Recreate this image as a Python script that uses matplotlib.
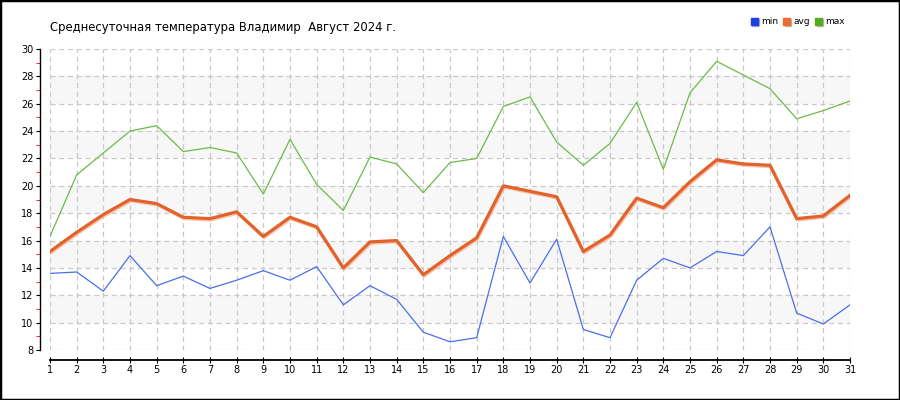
import matplotlib
matplotlib.use("Agg")
import matplotlib.pyplot as plt
import matplotlib.patheffects as pe
from matplotlib.lines import Line2D
from matplotlib.patches import Rectangle

days = list(range(1, 32))
t_min = [13.6, 13.7, 12.3, 14.9, 12.7, 13.4, 12.5, 13.1, 13.8, 13.1, 14.1,
         11.3, 12.7, 11.7, 9.3, 8.6, 8.9, 16.3, 12.9, 16.1, 9.5, 8.9,
         13.1, 14.7, 14.0, 15.2, 14.9, 17.0, 10.7, 9.9, 11.3]
t_avg = [15.2, 16.6, 17.9, 19.0, 18.7, 17.7, 17.6, 18.1, 16.3, 17.7, 17.0,
         14.0, 15.9, 16.0, 13.5, 14.9, 16.2, 20.0, 19.6, 19.2, 15.2, 16.4,
         19.1, 18.4, 20.3, 21.9, 21.6, 21.5, 17.6, 17.8, 19.3]
t_max = [16.3, 20.8, 22.4, 24.0, 24.4, 22.5, 22.8, 22.4, 19.4, 23.4, 20.1,
         18.2, 22.1, 21.6, 19.5, 21.7, 22.0, 25.8, 26.5, 23.2, 21.5, 23.1,
         26.1, 21.2, 26.8, 29.1, 28.1, 27.1, 24.9, 25.5, 26.2]

title = "Среднесуточная температура Владимир  Август 2024 г."
y_min, y_max = 8, 30

fig = plt.figure(figsize=(9, 4), dpi=100)
ax = fig.add_axes([50 / 900, 50 / 400, 800 / 900, 301 / 400])

# alternating background bands
for lo in range(10, 30, 4):
    ax.axhspan(lo, lo + 2, color="#f7f7f7", zorder=0, lw=0)

ax.plot(days, t_min, color="#4a6ee8", lw=0.9, zorder=3)
ax.plot(days, t_max, color="#6cbb48", lw=0.9, zorder=3)
ax.plot(days, t_avg, color="#e3622a", lw=2.3, zorder=4,
        path_effects=[pe.SimpleLineShadow(offset=(0.6, -1.0), shadow_color="#f4b9a0", alpha=0.8, rho=1),
                      pe.Normal()])

ax.set_xlim(1, 31)
ax.set_ylim(y_min, y_max)
ax.set_xticks(days)
ax.set_yticks(range(y_min, y_max + 1, 2))
ax.set_yticks(range(y_min + 1, y_max, 2), minor=True)
ax.grid(True, which="major", color="#c8c8c8", ls=(0, (4, 3)), lw=0.9)
ax.set_axisbelow(True)

for s in ["top", "right"]:
    ax.spines[s].set_visible(False)
ax.spines["left"].set_position(("outward", 7))
ax.spines["bottom"].set_position(("outward", 7))
ax.spines["left"].set_linewidth(1)
ax.spines["bottom"].set_linewidth(1.3)
ax.tick_params(axis="y", which="major", direction="out", length=3, labelsize=7, pad=2)
ax.tick_params(axis="y", which="minor", direction="out", length=3, color="red")
ax.tick_params(axis="x", direction="inout", length=5, labelsize=7, pad=1)

fig.text(50 / 900, 1 - 28 / 400, title, fontsize=8.4, va="center", ha="left")

handles = [Line2D([], [], ls="", marker="s", markersize=5, color=c,
                  path_effects=[pe.SimpleLineShadow(offset=(1, -1), shadow_color="#aaaaaa", alpha=0.8), pe.Normal()])
           for c in ["#1d40e0", "#ee6a30", "#55aa22"]]
fig.legend(handles, ["min", "avg", "max"], loc="center", bbox_to_anchor=(798 / 900, 1 - 22 / 400),
           ncol=3, frameon=False, fontsize=6.5, handlelength=0.7, handletextpad=0.4,
           columnspacing=0.6)

fig.add_artist(Rectangle((0, 0), 1, 1, transform=fig.transFigure, fill=False,
                         edgecolor="black", lw=2.5))

fig.savefig("out.png", dpi=100)
